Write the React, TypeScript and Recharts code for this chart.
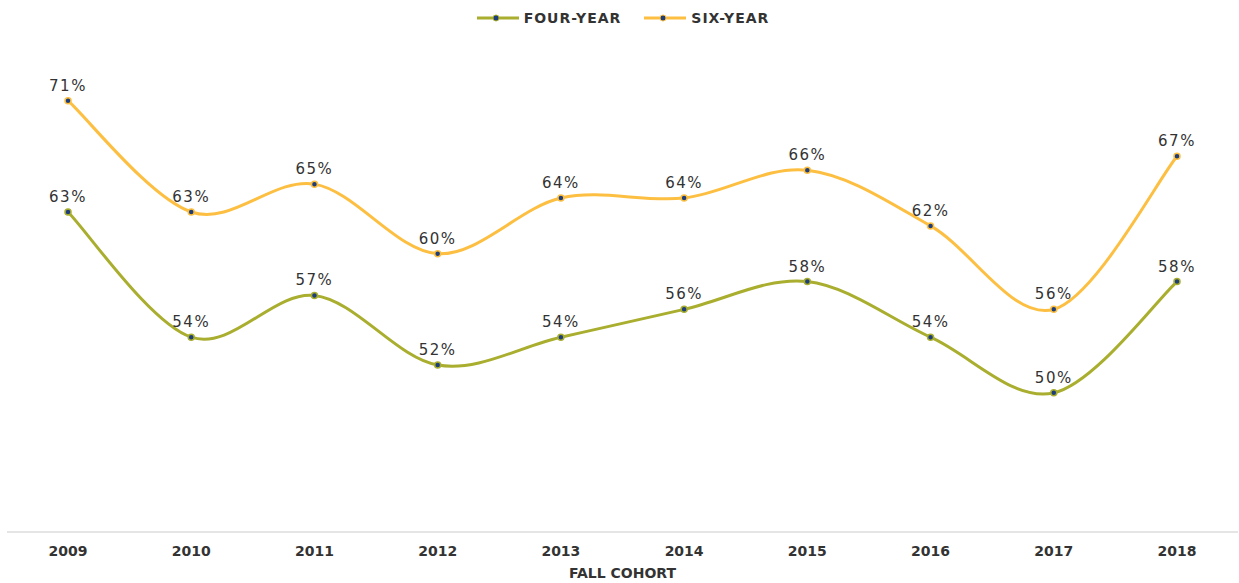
import { CartesianGrid, LabelList, Legend, Line, LineChart, XAxis, YAxis } from "recharts";

const years = ["2009", "2010", "2011", "2012", "2013", "2014", "2015", "2016", "2017", "2018"];
const fourYear = [63, 54, 57, 52, 54, 56, 58, 54, 50, 58];
const sixYear = [71, 63, 65, 60, 64, 64, 66, 62, 56, 67];

const data = years.map((year, i) => ({ year, four: fourYear[i], six: sixYear[i] }));

const OLIVE = "#a9ae2e";
const GOLD = "#fdbf41";
const NAVY = "#1d3e7a";
const TEXT = "#333333";

// excel style smoothed line (catmull-rom through every point)
const smooth = (context: any) => {
  let xs: number[] = [];
  let ys: number[] = [];
  return {
    areaStart() {},
    areaEnd() {},
    lineStart() {
      xs = [];
      ys = [];
    },
    point(x: number, y: number) {
      xs.push(+x);
      ys.push(+y);
    },
    lineEnd() {
      const n = xs.length;
      if (!n) return;
      context.moveTo(xs[0], ys[0]);
      for (let i = 0; i < n - 1; i++) {
        const p = Math.max(i - 1, 0);
        const q = Math.min(i + 2, n - 1);
        context.bezierCurveTo(
          xs[i] + (xs[i + 1] - xs[p]) / 6,
          ys[i] + (ys[i + 1] - ys[p]) / 6,
          xs[i + 1] - (xs[q] - xs[i]) / 6,
          ys[i + 1] - (ys[q] - ys[i]) / 6,
          xs[i + 1],
          ys[i + 1]
        );
      }
    },
  };
};

const legendItems = [
  { name: "FOUR-YEAR", color: OLIVE },
  { name: "SIX-YEAR", color: GOLD },
];

function LegendContent() {
  return (
    <div style={{ height: 39, display: "flex", justifyContent: "center", gap: 22 }}>
      {legendItems.map((item) => (
        <div key={item.name} style={{ display: "flex", alignItems: "center", height: 24 }}>
          <svg width={44} height={10} style={{ marginRight: 4 }}>
            <line x1={1} y1={5} x2={43} y2={5} stroke={item.color} strokeWidth={3} />
            <circle cx={20} cy={5} r={3} fill={NAVY} stroke={item.color} strokeWidth={1} />
          </svg>
          <span
            style={{
              fontFamily: "DejaVu Sans",
              fontWeight: 700,
              fontSize: 14,
              letterSpacing: 1,
              color: TEXT,
            }}
          >
            {item.name}
          </span>
        </div>
      ))}
    </div>
  );
}

const dot = { r: 3, fill: NAVY, strokeWidth: 1.5 };
const labelStyle = { fontFamily: "DejaVu Sans", fontSize: 15, letterSpacing: 1.5, fill: TEXT };

export default function App() {
  return (
    <div style={{ position: "absolute", left: 0, top: 0, background: "#fff" }}>
      <LineChart width={1239} height={583} data={data} margin={{ top: 6, right: 1, bottom: 0, left: 7 }}>
        <CartesianGrid horizontal={false} vertical={false} />
        <Legend verticalAlign="top" align="center" content={<LegendContent />} />
        <XAxis
          dataKey="year"
          height={51}
          padding={{ left: 61, right: 61 }}
          tickLine={false}
          axisLine={{ stroke: "#dcdcdc", strokeWidth: 1.5 }}
          tickMargin={8}
          tick={{ fontFamily: "DejaVu Sans", fontWeight: 700, fontSize: 14, fill: TEXT }}
          label={{
            value: "FALL COHORT",
            position: "insideBottom",
            offset: 5,
            style: { fontFamily: "DejaVu Sans", fontWeight: 700, fontSize: 14, fill: TEXT },
          }}
        />
        <YAxis hide domain={[40, 75]} />
        <Line
          dataKey="four"
          type={smooth as any}
          stroke={OLIVE}
          strokeWidth={3}
          dot={dot}
          activeDot={false}
          isAnimationActive={false}
        >
          <LabelList dataKey="four" position="top" offset={10} formatter={(v: any) => `${v}%`} style={labelStyle} />
        </Line>
        <Line
          dataKey="six"
          type={smooth as any}
          stroke={GOLD}
          strokeWidth={3}
          dot={dot}
          activeDot={false}
          isAnimationActive={false}
        >
          <LabelList dataKey="six" position="top" offset={10} formatter={(v: any) => `${v}%`} style={labelStyle} />
        </Line>
      </LineChart>
    </div>
  );
}
